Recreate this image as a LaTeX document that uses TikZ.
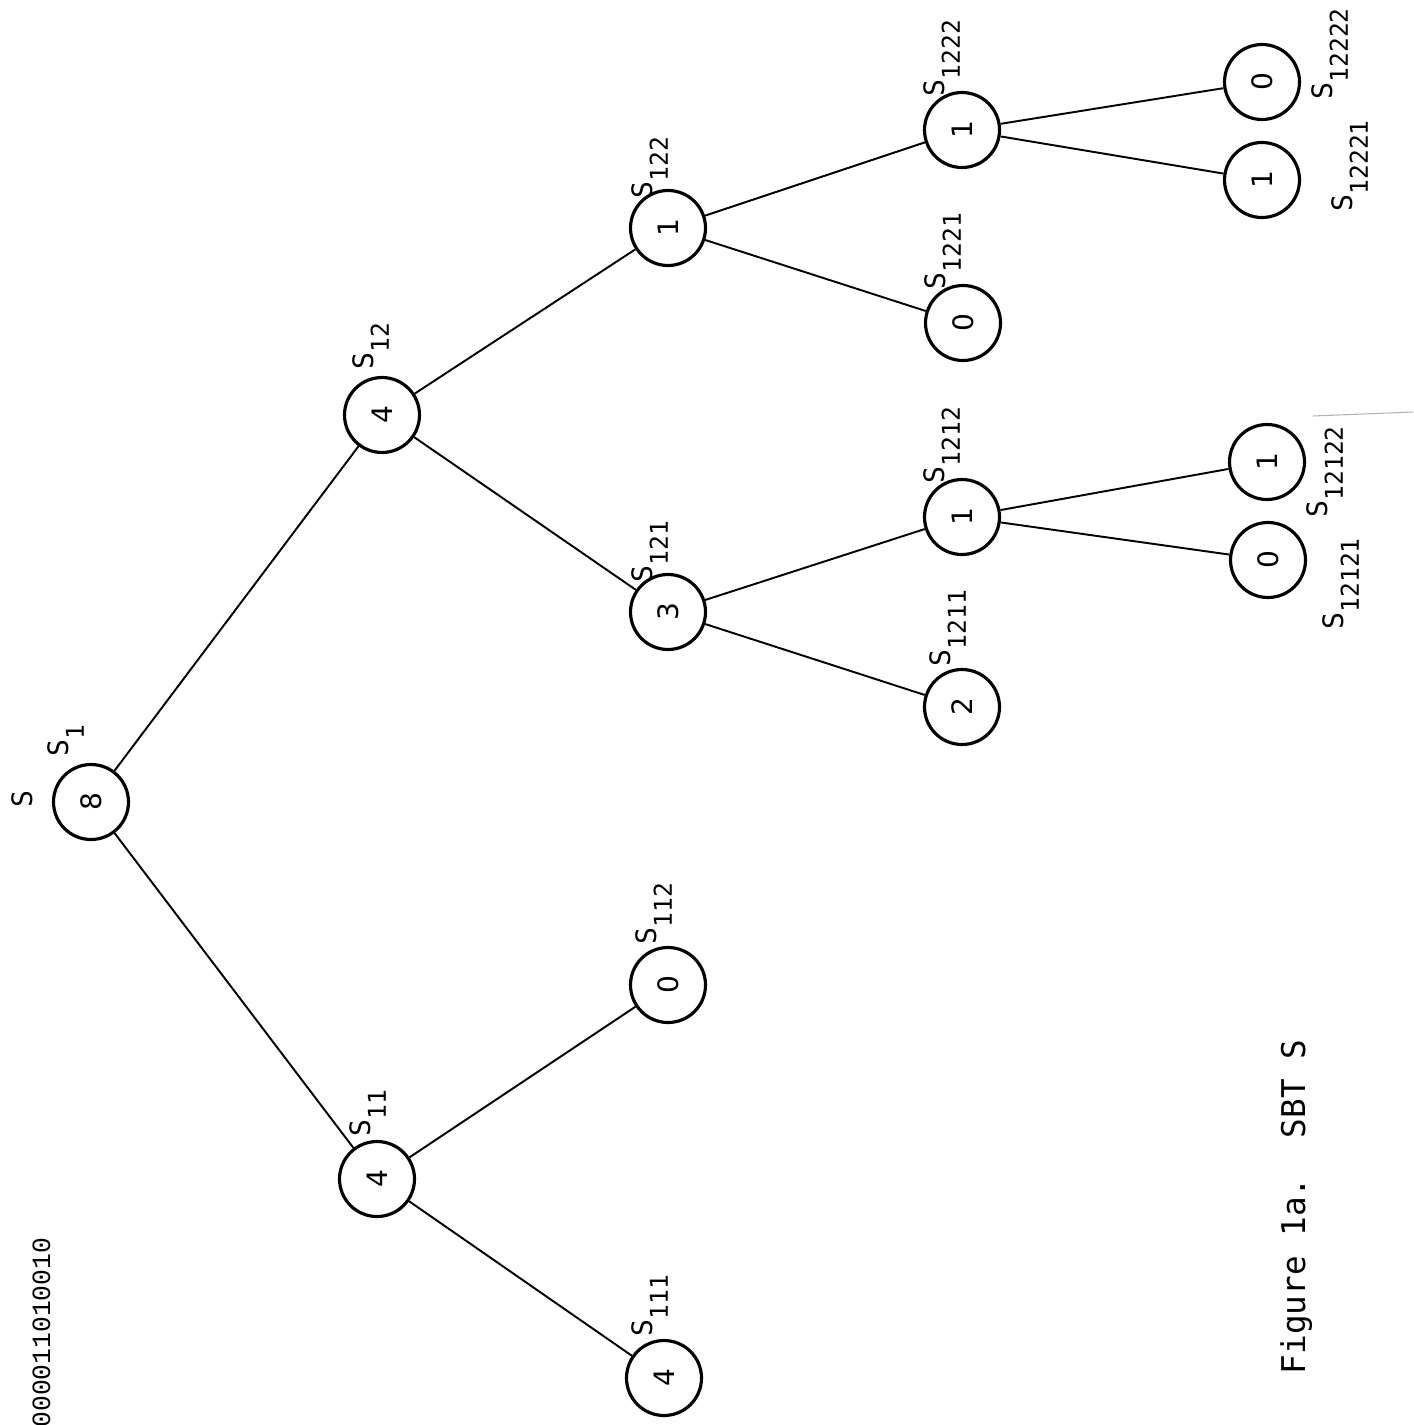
\documentclass[tikz,border=0pt]{standalone}
\usepackage{fontspec}
\setmonofont{DejaVu Sans Mono}
\newfontfamily\tapefont{Liberation Mono}
\newfontfamily\countfont{DejaVu Sans}
\newcommand{\sbtidx}[1]{\raisebox{-4.5pt}{\fontsize{7}{7}\selectfont #1}}

\begin{document}
\begin{tikzpicture}[x=0.1mm, y=-0.1mm,
    sbt/.style={circle, draw, line width=0.9pt, minimum size=7.5mm, inner sep=0pt,
        rotate=90, font=\countfont\fontsize{8}{8}\selectfont},
    lbl/.style={rotate=90, anchor=base west, inner sep=0pt,
        font=\ttfamily\fontsize{8}{8}\selectfont},
    edge/.style={line width=0.55pt}]
    \useasboundingbox (0,0) rectangle (1413,1425);

    % -- tree nodes (page is turned, root on the left) -----------------------
    \foreach \n/\px/\py/\v in {s1/91/802/8, s11/377/1179/4, s111/664/1378/4,
        s112/668/985/0, s12/382/415/4, s121/668/612/3, s122/668/228/1,
        s1211/962/707/2, s1212/962/517/1, s1221/963/323/0, s1222/962/130/1,
        s12121/1268/560/0, s12122/1267/462/1, s12221/1262/180/1,
        s12222/1262/82/0} {
        \node[sbt] (\n) at (\px,\py) {\v};
    }

    % -- branches ------------------------------------------------------------
    \foreach \a/\b in {s1/s11, s1/s12, s11/s111, s11/s112, s12/s121, s12/s122,
        s121/s1211, s121/s1212, s122/s1221, s122/s1222, s1212/s12121,
        s1212/s12122, s1222/s12221, s1222/s12222} {
        \draw[edge] (\a) -- (\b);
    }

    % -- subset labels -------------------------------------------------------
    \node[lbl] (lS) at (32,808) {S};
    \foreach \px/\py/\sub in {68/757/1, 370/1137/11, 652/1337/111, 656/945/112,
        373/370/12, 652/583/121, 652/199/122, 950/667/1211, 944/484/1212,
        945/290/1221, 944/97/1222, 1343/630/12121, 1327/518/12122,
        1352/212/12221, 1332/100/12222} {
        \node[lbl] (l\sub) at (\px,\py) {S\sbtidx{\sub}};
    }

    % -- bit string at the page edge -----------------------------------------
    \node[rotate=90, anchor=base east, inner sep=0pt,
        font=\tapefont\fontsize{7.5}{7.5}\selectfont] (bits) at (50,1237) {000011010010};

    % -- caption -------------------------------------------------------------
    \node[rotate=90, anchor=base west, inner sep=0pt,
        font=\ttfamily\fontsize{9.3}{9.3}\selectfont] (cap) at (1305,1375) {Figure 1a.\ \ SBT S};

    % -- scan mark -----------------------------------------------------------
    \coordinate (m1) at (1313,416);
    \coordinate (m2) at (1413,412);
    \draw[gray!60, line width=0.3pt] (m1) -- (m2);
\end{tikzpicture}
\end{document}
